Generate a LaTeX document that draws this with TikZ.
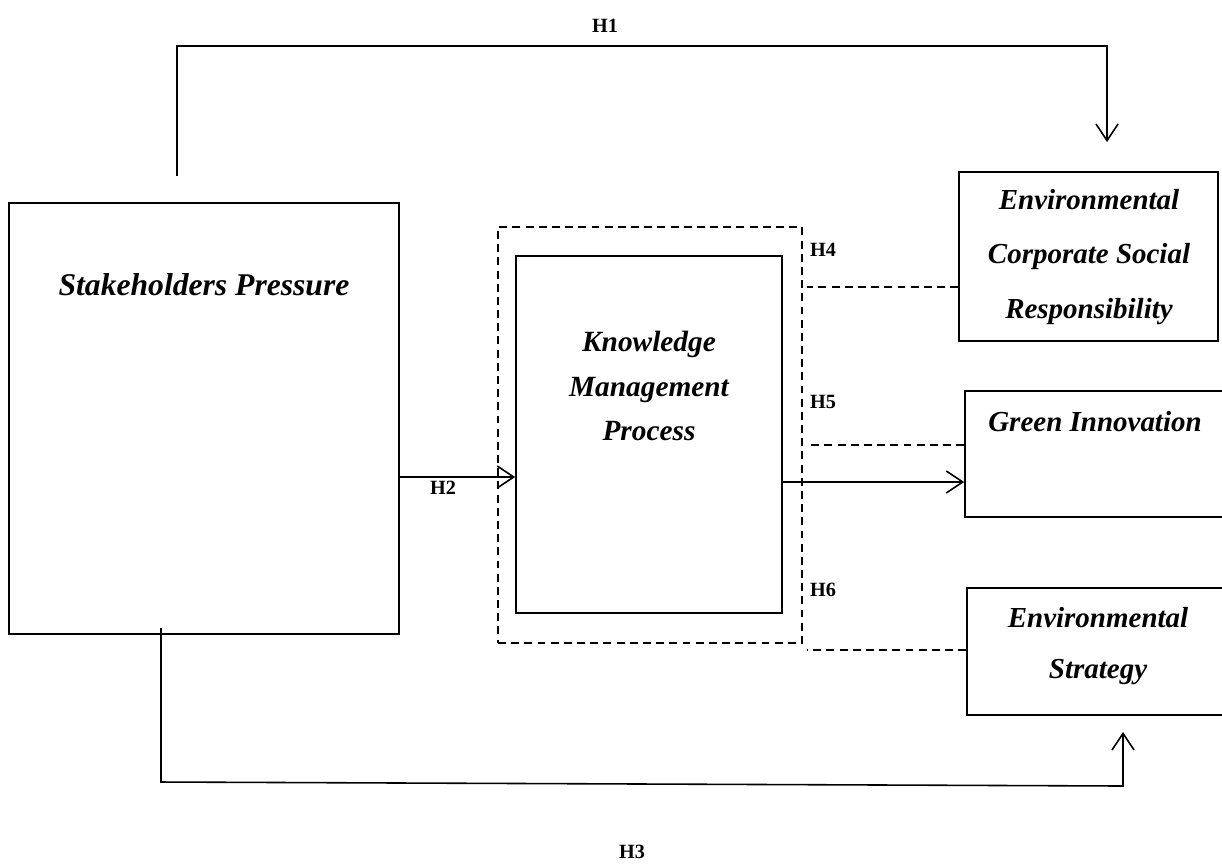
\documentclass[tikz,border=0pt]{standalone}
\usepackage{fontspec}
\setmainfont{Liberation Serif}
\usepackage{tikz}
\usetikzlibrary{arrows.meta}
\usetikzlibrary{positioning}
\newcommand{\boxfont}[2]{\bfseries\itshape\fontsize{#1}{#2}\selectfont}
\newcommand{\modlink}[3]{\draw[modline] ([yshift=#1]#2.west) coordinate (#3)--([xshift=0.08cm]#3-|kmpout.east)}

\begin{document}
\begin{tikzpicture}[x=0.02cm, y=-0.02cm,
    box/.style={draw, line width=1pt, inner sep=0pt},
    lbl/.style={align=center, inner sep=0pt},
    hyplbl/.style={font=\bfseries\fontsize{11.5}{13}\selectfont, inner sep=0pt},
    link/.style={line width=0.9pt, -{Straight Barb[length=3.3mm,width=4.4mm]}},
    modline/.style={line width=0.9pt, dash pattern=on 4.5pt off 3pt}]
    \path[use as bounding box, clip] (0,0) rectangle (1222,863);
    % boxes
    \node[box, minimum width=7.8cm, minimum height=8.62cm] (sp) at (204,418.5) {};
    \node[box, dash pattern=on 4.5pt off 3pt, minimum width=6.08cm, minimum height=8.32cm] (kmpout) at (650,435) {};
    \node[box, minimum width=5.32cm, minimum height=7.14cm] (kmp) at (649,434.5) {};
    \node[box, minimum width=5.18cm, minimum height=3.38cm] (ecsr) at (1088.5,256.5) {};
    \node[box, minimum width=5.5cm, minimum height=2.52cm] (gi) at (1102.5,454) {};
    \node[box, minimum width=5.5cm, minimum height=2.54cm] (es) at (1104.5,651.5) {};
    % box texts
    \node[lbl, font=\boxfont{18}{21pt}] (spt) at (204,285) {Stakeholders Pressure};
    \node[lbl, font=\boxfont{16.7}{25.5pt}] (kmpt) at (649,386) {Knowledge\\Management\\Process};
    \node[lbl, font=\boxfont{16.5}{31pt}] (ecsrt) at (1089,257) {Environmental\\Corporate Social\\Responsibility};
    \node[lbl, font=\boxfont{16.5}{21pt}] (git) at (1095,422) {Green Innovation};
    \node[lbl, font=\boxfont{16.5}{29pt}] (est) at (1098,646) {Environmental\\Strategy};
    % H1 and H3
    \coordinate (h1a) at (177,176);
    \coordinate (h1l) at (177,46);
    \coordinate (h1r) at (1107,46);
    \coordinate (h1b) at (1107,142);
    \draw[link] (h1a) -- (h1l) -- (h1r) -- (h1b);
    \coordinate (h3a) at (161,628);
    \coordinate (h3l) at (161,782);
    \coordinate (h3r) at (1123,786);
    \coordinate (h3b) at (1123,732);
    \draw[link] (h3a) -- (h3l) -- (h3r) -- (h3b);
    % H2 and mediation
    \draw[link] ([yshift=-1.17cm]sp.east) coordinate (h2a) -- (h2a-|kmp.west);
    \draw[link] ([yshift=-0.95cm]kmp.east) coordinate (gia) -- (gia-|gi.west);
    % moderation
    \modlink{-0.61cm}{ecsr}{m4};
    \modlink{0.18cm}{gi}{m5};
    \modlink{0.03cm}{es}{m6};
    % labels
    \node[hyplbl] (h1) at (605,26) {H1};
    \node[hyplbl] (h2) at (443,488) {H2};
    \node[hyplbl] (h3) at (632,852) {H3};
    \node[hyplbl] (h4) at (823,250) {H4};
    \node[hyplbl] (h5) at (823,402) {H5};
    \node[hyplbl] (h6) at (823,590) {H6};
\end{tikzpicture}
\end{document}
